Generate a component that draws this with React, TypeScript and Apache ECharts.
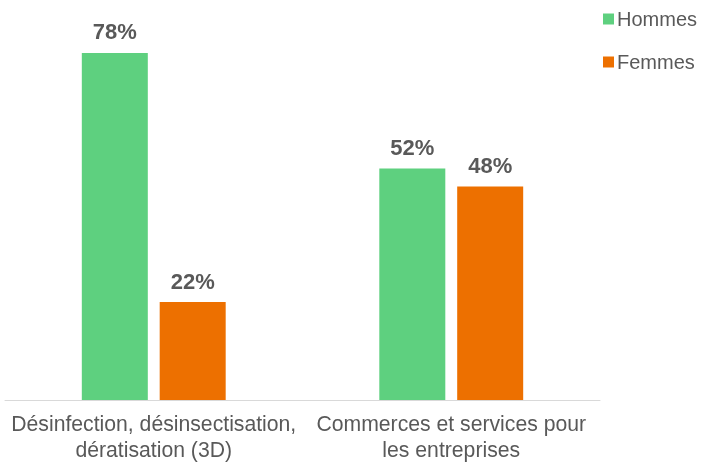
import React, { useEffect, useRef } from "react";
import * as echarts from "echarts";

const categories = [
  "Désinfection, désinsectisation,\ndératisation (3D)",
  "Commerces et services pour\nles entreprises",
];
const hommes = [78, 52];
const femmes = [22, 48];

export default function App() {
  const ref = useRef<HTMLDivElement>(null);
  useEffect(() => {
    const chart = echarts.init(ref.current!, null, { renderer: "svg" });
    const font = "'Liberation Sans', Arial, sans-serif";
    const label = {
      show: true,
      position: "top",
      distance: 10,
      formatter: "{c}%",
      fontFamily: font,
      fontSize: 22,
      fontWeight: "bold",
      color: "#595959",
    };
    chart.setOption({
      animation: false,
      textStyle: { fontFamily: font },
      legend: {
        orient: "vertical",
        left: 598,
        top: 4,
        itemWidth: 11,
        itemHeight: 11,
        itemGap: 23,
        icon: "rect",
        textStyle: { fontFamily: font, fontSize: 20, color: "#595959", padding: [0, 0, 0, -2] },
        data: ["Hommes", "Femmes"],
      },
      grid: { left: 5, right: 102, top: 44, bottom: 62, containLabel: false, outerBoundsMode: "none" },
      xAxis: {
        type: "category",
        data: categories,
        axisLine: { lineStyle: { color: "#d9d9d9", width: 1 } },
        axisTick: { show: false },
        axisLabel: {
          fontFamily: font,
          fontSize: 21.2,
          color: "#595959",
          lineHeight: 26,
          margin: 10,
          interval: 0,
        },
      },
      yAxis: {
        type: "value",
        min: 0,
        max: 80,
        show: false,
        splitLine: { show: false },
      },
      series: [
        {
          name: "Hommes",
          type: "bar",
          data: hommes,
          barWidth: 66,
          barGap: "18%",
          itemStyle: { color: "#5ed07f" },
          label,
        },
        {
          name: "Femmes",
          type: "bar",
          data: femmes,
          barWidth: 66,
          itemStyle: { color: "#ed7000" },
          label,
        },
      ],
    });
    return () => chart.dispose();
  }, []);
  return <div ref={ref} style={{ width: 702, height: 462, position: "fixed", left: 0, top: 0 }} />;
}
